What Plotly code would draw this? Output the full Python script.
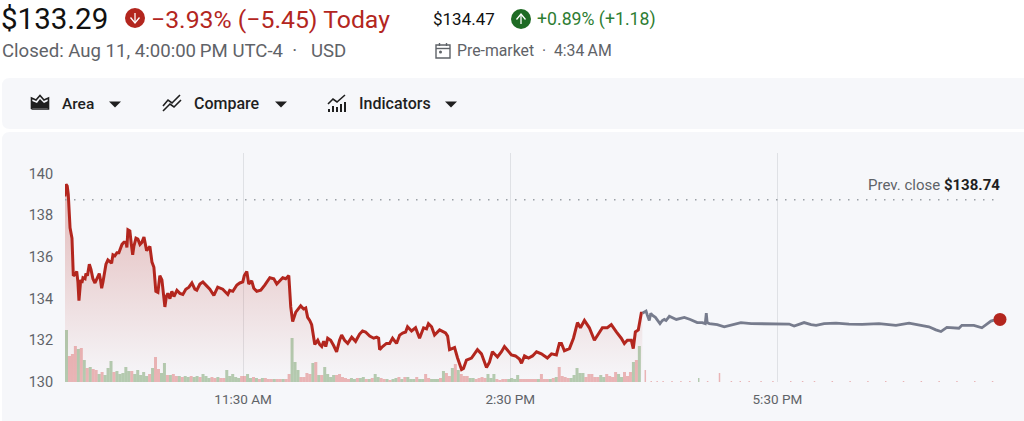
import plotly.graph_objects as go

W, H = 1024, 421

# minutes after the 9:30 open, price
open_minutes = [0, 0.7, 1.5, 2.2, 3.4, 4.7, 5.6, 6.7, 7.9, 8.7, 9.4, 10.6, 11.4, 12.1, 13.5, 14.1, 15.1, 16.4, 17.5, 18.8,
                20.2, 21.5, 23.1, 23.9, 24.7, 25.6, 26.6, 27.6, 28.9, 30.3, 31.4, 32.3, 33.6, 35, 36.3, 38.4, 39.7, 41.1, 41.7, 42.4,
                43.7, 44.7, 45.6, 46.4, 47.8, 49.1, 50.5, 51.8, 53.2, 55, 55.9, 57.2, 58.6, 59.9, 61.2, 62.6, 63.9, 65.3, 67.3, 68.3,
                69.3, 70.7, 72, 73.4, 75.4, 77.4, 79.4, 81.4, 83.5, 85.5, 87.5, 88.8, 90.9, 92.9, 95.6, 97.6, 100.3, 102.9, 106.3, 109.7,
                111, 113.1, 115.8, 117.8, 119.8, 120.8, 122.5, 123.8, 125.8, 127.2, 129.2, 131.9, 134.6, 138, 140.7, 142.7, 146.7, 148.7, 150.8, 152.1,
                153.4, 155.5, 158.8, 160.8, 162.2, 163.5, 164.9, 166.2, 168.3, 170.3, 171.6, 173, 174.3, 175.7, 177, 179, 181, 183, 185, 186.4,
                188.4, 190.5, 193.2, 195.8, 198.5, 200.5, 202.5, 205.3, 208, 210, 211.3, 212, 214, 216.6, 218.7, 220.7, 223.4, 225.5, 227.5, 229.5,
                230.8, 233.5, 236.2, 238.9, 241.6, 243.6, 244.9, 247, 249, 252.4, 256.4, 257.8, 259.1, 262.5, 264.5, 267.2, 268.5, 270.5, 273.9, 277.9,
                280.6, 282.6, 284, 286, 288, 291.4, 294.1, 296.1, 298.2, 300.8, 303.5, 306.2, 307.6, 309.6, 312.3, 315, 317.7, 321, 325, 327.8,
                331.1, 333.1, 334.5, 336.5, 339.9, 342.6, 345.3, 347.3, 350, 353.3, 356.7, 360, 362.1, 365.4, 368.1, 371.5, 374.8, 376.9, 378.9, 381.6,
                382.9, 384.3, 386.3, 388.3, 389]
open_prices = [138.9, 139.48, 139.4, 139.0, 137.4, 136.9, 135.1, 135.15, 135.3, 134.8, 133.9, 134.9, 134.75, 135.0, 134.95, 135.2, 135.1, 135.65, 135.4, 134.95,
               134.75, 134.95, 135.2, 134.9, 134.5, 134.8, 135.3, 135.65, 135.85, 135.75, 135.7, 136.1, 136.05, 136.2, 136.2, 136.6, 136.7, 136.7, 136.45, 137.3,
               137.25, 136.6, 136.1, 136.5, 136.9, 136.85, 136.6, 136.7, 136.95, 136.3, 136.4, 136.5, 135.75, 135.5, 134.35, 134.3, 135.1, 134.9, 133.6, 134.1,
               134.25, 134.0, 134.35, 134.1, 134.4, 134.25, 134.2, 134.45, 134.55, 134.75, 134.45, 134.4, 134.7, 134.8, 134.6, 134.45, 134.15, 134.55, 134.45, 134.2,
               134.4, 134.35, 134.65, 134.75, 134.8, 135.1, 135.3, 134.7, 134.85, 134.5, 134.35, 134.4, 134.65, 135.0, 134.95, 134.7, 135.0, 134.95, 135.1, 133.6,
               132.9, 133.35, 133.65, 133.5, 133.55, 133.1, 132.95, 132.75, 131.8, 132.0, 131.8, 131.7, 131.95, 131.7, 132.1, 132.0, 131.75, 131.45, 132.0, 132.25,
               132.0, 131.85, 132.15, 131.95, 132.3, 132.45, 132.4, 132.2, 132.1, 132.15, 132.1, 131.55, 131.7, 131.85, 131.85, 132.1, 131.85, 132.25, 132.35, 132.4,
               132.65, 132.45, 132.6, 132.1, 132.6, 132.55, 132.8, 132.65, 132.25, 132.5, 132.35, 132.2, 131.55, 131.65, 131.15, 130.6, 130.65, 131.05, 131.15, 131.55,
               131.35, 130.95, 130.7, 130.95, 131.45, 131.2, 131.45, 131.7, 131.5, 131.3, 131.25, 131.1, 130.9, 131.25, 131.15, 131.25, 131.45, 131.35, 131.15, 131.35,
               131.3, 131.85, 131.85, 131.5, 131.6, 132.1, 132.85, 132.6, 132.95, 132.6, 132.0, 132.4, 132.6, 132.6, 132.75, 132.4, 132.1, 131.85, 132.0, 132.0,
               131.6, 132.4, 132.5, 133.3, 133.3]

after_minutes = [389, 391.5, 392.4, 393.7, 394.7, 395.7, 397.8, 400.9, 402.5, 403.8, 405, 407.2, 411.9, 417.3, 421.3, 426, 429.4, 431.4, 432.1, 432.7,
                 434.1, 439.5, 444.2, 448.9, 455.4, 462.4, 469.8, 476.5, 483.2, 487.9, 491.3, 498, 502.7, 506.1, 511.5, 519.5, 528.3, 537, 548.5, 559.9,
                 568.7, 575.4, 582.1, 586.8, 590.2, 594.2, 602.3, 604.3, 612.4, 617.8, 621.1, 623.9, 626.6, 630]
after_prices = [133.3, 133.4, 133.2, 132.95, 133.3, 133.2, 133.1, 132.8, 132.95, 133.0, 132.95, 133.15, 133.0, 133.1, 133.0, 132.85, 132.85, 132.8, 133.3, 132.85,
                132.8, 132.75, 132.65, 132.72, 132.85, 132.8, 132.8, 132.78, 132.8, 132.78, 132.68, 132.85, 132.75, 132.72, 132.8, 132.82, 132.78, 132.76, 132.8, 132.72,
                132.82, 132.72, 132.65, 132.5, 132.42, 132.62, 132.58, 132.72, 132.72, 132.6, 132.75, 132.92, 132.98, 133.0]

# volume, one bar every two minutes in the regular session
volumes = [52, 26, 28, 36, 33, 34, 22, 14, 15, 13, 12, 8, 10, 7, 14, 21, 10, 11, 8, 9,
           15, 11, 11, 8, 12, 7, 10, 6, 8, 14, 25, 13, 9, 19, 7, 7, 8, 6, 6, 5,
           6, 5, 6, 5, 6, 5, 8, 6, 4, 5, 4, 5, 4, 4, 12, 6, 8, 5, 4, 6,
           6, 8, 4, 5, 4, 3, 4, 4, 3, 3, 3, 3, 3, 3, 3, 8, 44, 20, 12, 5,
           5, 9, 8, 19, 20, 7, 7, 15, 8, 5, 7, 7, 8, 5, 4, 3, 4, 3, 4, 4,
           5, 3, 3, 4, 8, 5, 4, 3, 3, 2, 3, 4, 5, 3, 5, 5, 3, 3, 5, 3,
           3, 8, 4, 3, 3, 3, 4, 11, 9, 6, 14, 18, 12, 8, 6, 6, 4, 4, 3, 4,
           5, 4, 8, 4, 8, 3, 2, 3, 3, 3, 4, 3, 7, 3, 3, 3, 3, 3, 3, 3,
           8, 3, 3, 3, 4, 5, 15, 6, 5, 4, 4, 7, 14, 9, 9, 5, 8, 8, 5, 5,
           7, 5, 8, 6, 5, 10, 8, 5, 10, 6, 10, 20, 22, 36]
volume_up = "grrrgrgrgrrgrgggrgggggrgggggrgrrggrgrrgrggrggrgggrrgrrgggggrrggrgrgrrrgrrgrrgggrrrrgrgrggggrrrrrggrggrgrggrrgrggrgrgggrggrrgggrgrrgrgrrrggrrrrgggrrrrggggrrrrrrgrrrgrgrrrrgggggrrrrrggrrrrggrrrgrggrrrgrrrgg"

after_vol_minutes = [391, 395, 399, 403, 409, 415, 421, 427, 433, 441, 449, 455, 461, 469, 477, 489, 497, 505, 517, 529, 541, 553, 565, 577, 589, 601, 613, 625]
after_volumes = [12, 1, 1, 1, 1, 1, 1, 4, 1, 9, 1, 1, 1, 1, 1, 1, 1, 1, 1, 1, 1, 1, 1, 1, 1, 1, 1, 1]
after_vol_up = "rrrrrrrgrrrrrrrrrrrrrrrrrrrr"

prev_close = 138.74
y_ticks = [130, 132, 134, 136, 138, 140]
x_tick_minutes = [120, 300, 480]
x_tick_labels = ["11:30 AM", "2:30 PM", "5:30 PM"]

RED = "#b3261e"
GRAY = "#5f6368"
GREEN = "#2e7d32"
DARK = "#1f1f1f"
PANEL = "#f6f7fa"


def px(x):
    return x / W


def py(y):
    return 1 - y / H


def path(points, close=False):
    d = "M" + " L".join(f"{px(x):.5f},{py(y):.5f}" for x, y in points)
    return d + (" Z" if close else "")


def panel_path(x0, y0, x1, y1, r):
    # rounded on the left side only, the right side runs off the page
    return (f"M{px(x1)},{py(y0)} L{px(x0 + r)},{py(y0)} Q{px(x0)},{py(y0)} {px(x0)},{py(y0 + r)} "
            f"L{px(x0)},{py(y1 - r)} Q{px(x0)},{py(y1)} {px(x0 + r)},{py(y1)} L{px(x1)},{py(y1)} Z")


def label(x, y, text, size, color, anchor="left", weight=None):
    return dict(x=px(x), y=py(y), xref="paper", yref="paper", text=text, showarrow=False,
                xanchor=anchor, yanchor="middle", font=dict(size=size, color=color, family="Roboto", weight=weight))


def round_badge(cx, cy, r, color, up):
    tip = -0.5 * r if up else 0.5 * r
    wing = 0.05 * r if up else -0.05 * r
    return [
        dict(type="circle", xref="paper", yref="paper", x0=px(cx - r), x1=px(cx + r), y0=py(cy + r), y1=py(cy - r),
             fillcolor=color, line_width=0),
        dict(type="path", xref="paper", yref="paper", path=path([(cx, cy - tip), (cx, cy + tip)]),
             line=dict(color="white", width=1.3)),
        dict(type="path", xref="paper", yref="paper",
             path=path([(cx - 0.45 * r, cy + wing), (cx, cy + tip), (cx + 0.45 * r, cy + wing)]),
             line=dict(color="white", width=1.3)),
    ]


def icon_line(points, width=1.6, color=DARK):
    return dict(type="path", xref="paper", yref="paper", path=path(points), line=dict(color=color, width=width))


def caret(cx, cy):
    return dict(type="path", xref="paper", yref="paper", fillcolor=DARK, line_width=0,
                path=path([(cx - 6, cy - 2.5), (cx + 6, cy - 2.5), (cx, cy + 3.5)], close=True))


shapes = [
    dict(type="path", xref="paper", yref="paper", path=panel_path(2, 78, W, 129, 8), fillcolor=PANEL, line_width=0, layer="below"),
    dict(type="path", xref="paper", yref="paper", path=panel_path(2, 132, W, H + 8, 8), fillcolor=PANEL, line_width=0, layer="below"),
    caret(115, 104), caret(281, 104), caret(451, 104),
    # area icon
    dict(type="path", xref="paper", yref="paper", fillcolor=DARK, line_width=0,
         path=path([(32, 108), (32, 101), (37, 103), (40, 99), (44, 103), (48, 101), (48, 108)], close=True)),
    icon_line([(31.5, 109), (31.5, 98), (36, 100), (40, 95.5), (44, 100), (48.5, 98), (48.5, 109), (31.5, 109)]),
    # compare icon
    icon_line([(163, 106), (168, 100), (172, 103), (180, 95)]),
    icon_line([(163, 111), (170, 104), (174, 107), (181, 100)]),
    # indicators icon
    icon_line([(328, 104), (333, 99), (337, 102), (345, 95)]),
    icon_line([(329, 112), (329, 109)], 2), icon_line([(333, 112), (333, 106)], 2),
    icon_line([(337, 112), (337, 107)], 2), icon_line([(341, 112), (341, 104)], 2), icon_line([(345, 112), (345, 102)], 2),
    # calendar icon
    dict(type="rect", xref="paper", yref="paper", x0=px(436), x1=px(450), y0=py(58), y1=py(45), line=dict(color=GRAY, width=1.4)),
    icon_line([(436, 48.5), (450, 48.5)], 1.4, GRAY),
    icon_line([(439.5, 43), (439.5, 46)], 1.4, GRAY), icon_line([(446.5, 43), (446.5, 46)], 1.4, GRAY),
    dict(type="circle", xref="paper", yref="paper", x0=px(439), x1=px(442), y0=py(53.5), y1=py(50.5), fillcolor=GRAY, line_width=0),
    # prev close
    dict(type="line", xref="paper", yref="y", x0=px(65), x1=px(1000), y0=prev_close, y1=prev_close,
         line=dict(color="#9aa0a6", width=1.5, dash="1.5px,7.5px")),
]
shapes += round_badge(135, 18, 10, RED, False)
shapes += round_badge(521, 19, 10, "#1e6b24", True)

annotations = [
    label(-1, 19, "$133.29", 29.5, "#111111"),
    label(149, 19, "\u22123.93% (\u22125.45) Today", 24.8, RED),
    label(0, 51, "Closed: Aug 11, 4:00:00\u2009PM UTC-4 \u00a0\u00b7\u00a0 \u00a0USD", 18.6, GRAY),
    label(431, 19, "$134.47", 17, "#111111"),
    label(535, 19, "+0.89% (+1.18)", 17.7, GREEN),
    label(455, 51, "Pre-market \u00a0\u00b7\u00a0 4:34\u2009AM", 15.8, GRAY),
    label(60, 104, "Area", 15.5, DARK, weight=500),
    label(192, 104, "Compare", 16, DARK, weight=500),
    label(357, 104, "Indicators", 16, DARK, weight=500),
    label(1002, 185, f"Prev. close <b style='color:{DARK}'>${prev_close:.2f}</b>", 15, GRAY, anchor="right"),
]

fig = go.Figure()

# area under the regular session
fig.add_trace(go.Scatter(
    x=open_minutes, y=open_prices, mode="none", fill="tozeroy", yaxis="y", showlegend=False,
    fillgradient=dict(type="vertical", start=130, stop=139.5,
                      colorscale=[[0, "rgba(179,38,30,0)"], [1, "rgba(179,38,30,0.3)"]]),
))

bar_colors = {"g": "rgba(125,165,115,0.55)", "r": "rgba(222,125,125,0.55)"}
fig.add_trace(go.Bar(
    x=[1 + 2 * i for i in range(len(volumes))], y=volumes, width=2.02, yaxis="y2", showlegend=False,
    marker=dict(color=[bar_colors[c] for c in volume_up], line_width=0),
))
fig.add_trace(go.Bar(
    x=after_vol_minutes, y=after_volumes, width=1, yaxis="y2", showlegend=False,
    marker=dict(color=[bar_colors[c] for c in after_vol_up], line_width=0),
))

fig.add_trace(go.Scatter(x=after_minutes, y=after_prices, mode="lines", yaxis="y3", showlegend=False,
                         line=dict(color="#777c8d", width=2.8)))
fig.add_trace(go.Scatter(x=open_minutes, y=open_prices, mode="lines", yaxis="y3", showlegend=False,
                         line=dict(color=RED, width=3)))
fig.add_trace(go.Scatter(x=after_minutes[-1:], y=after_prices[-1:], mode="markers", yaxis="y3", showlegend=False,
                         cliponaxis=False, marker=dict(color=RED, size=13)))

y_range = [130, 130 + (382 - 153) / 20.85]
y_domain = [py(382), py(153)]

fig.update_layout(
    width=W, height=H,
    margin=dict(l=0, r=0, t=0, b=0),
    paper_bgcolor="white", plot_bgcolor="rgba(0,0,0,0)",
    barmode="overlay",
    xaxis=dict(domain=[px(65), px(1000)], range=[0, 630], tickmode="array", tickvals=x_tick_minutes, ticktext=x_tick_labels,
               showgrid=True, gridcolor="#dfe1e5", gridwidth=1.4, zeroline=False, showline=False, automargin=False,
               ticks="outside", ticklen=5, tickcolor="rgba(0,0,0,0)", tickfont=dict(size=13.5, color=GRAY, family="Roboto")),
    yaxis=dict(domain=y_domain, range=y_range, tickmode="array", tickvals=y_ticks, showgrid=False, zeroline=False, automargin=False,
               ticks="outside", ticklen=8, tickcolor="rgba(0,0,0,0)", tickfont=dict(size=14.5, color=GRAY, family="Roboto")),
    yaxis2=dict(domain=y_domain, range=[0, 229], overlaying="y", visible=False),
    yaxis3=dict(domain=y_domain, range=y_range, overlaying="y", visible=False),
    shapes=shapes,
    annotations=annotations,
)

fig.write_html("out.html", config=dict(displayModeBar=False), post_script="document.body.style.margin='0';")
